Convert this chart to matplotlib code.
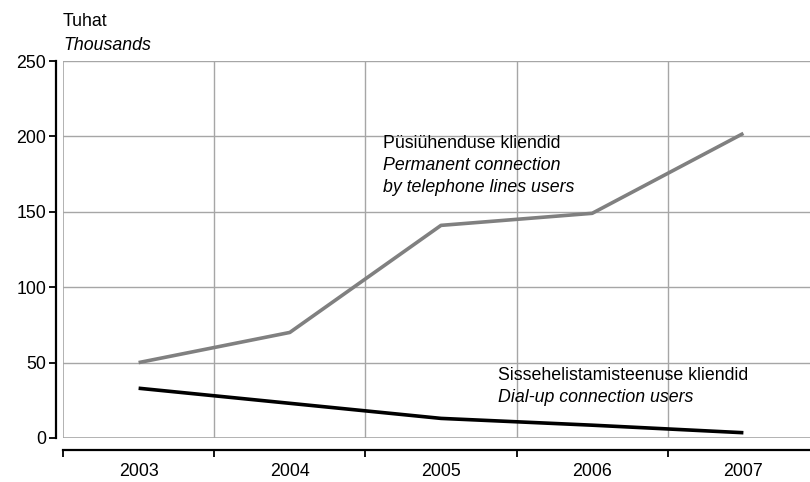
import matplotlib
matplotlib.use("Agg")
import matplotlib.pyplot as plt

# ----------------------------------------------------
# Data
# ----------------------------------------------------

years = ["2003", "2004", "2005", "2006", "2007"]
permanent = [50, 70, 141, 149, 202]
dialup = [33, 23, 13, 8.5, 3.5]

plt.rcParams["font.family"] = ["Liberation Sans", "DejaVu Sans"]
FS = 12.8

W, H = 810, 482
fig = plt.figure(figsize=(W / 100, H / 100), dpi=100)

# plot area runs past the right edge of the picture, as in the reference
left, right, top, bottom = 63, 819, 61, 438
ax = fig.add_axes([left / W, (H - bottom) / H, (right - left) / W, (bottom - top) / H])

x = list(range(len(years)))

ax.plot(x, permanent, color="#808080", lw=2.6, solid_capstyle="butt")
ax.plot(x, dialup, color="black", lw=2.6, solid_capstyle="butt")

ax.set_xlim(-0.5, len(years) - 0.5)
ax.set_ylim(0, 250)

# grid
grid_c = "#a6a6a6"
for yv in range(50, 251, 50):
    ax.axhline(yv, color=grid_c, lw=1, zorder=0)
for b in range(1, len(years)):
    ax.axvline(b - 0.5, color=grid_c, lw=1, zorder=0)

# frame: gray plot area, black offset axes
ax.spines["top"].set_visible(False)
ax.spines["right"].set_visible(False)
ax.axhline(0, color=grid_c, lw=1.2, zorder=0)
ax.axvline(-0.5, color=grid_c, lw=1.2, zorder=0)

ax.spines["left"].set_position(("outward", 5))
ax.spines["bottom"].set_position(("outward", 8.5))
ax.spines["left"].set_linewidth(1.6)
ax.spines["bottom"].set_linewidth(1.6)

ax.set_yticks(range(0, 251, 50))
ax.tick_params(axis="y", length=5, width=1.3, labelsize=FS, pad=2)

ax.set_xticks([b - 0.5 for b in range(len(years) + 1)])
ax.set_xticklabels([])
ax.tick_params(axis="x", length=5, width=1.3, direction="out")
for i, yr in enumerate(years):
    ax.text(i, -33 / (bottom - top), yr, transform=ax.get_xaxis_transform(),
            ha="center", va="center", fontsize=FS)

# labels
fig.text(left / W, 1 - 22 / H, "Tuhat", fontsize=FS, va="center")
fig.text(left / W, 1 - 45 / H, "Thousands", fontsize=FS, va="center", style="italic")

fig.text(383 / W, 1 - 143 / H, "Püsiühenduse kliendid", fontsize=FS, va="center")
fig.text(383 / W, 1 - 166 / H, "Permanent connection", fontsize=FS, va="center", style="italic")
fig.text(383 / W, 1 - 188 / H, "by telephone lines users", fontsize=FS, va="center", style="italic")

fig.text(498 / W, 1 - 375 / H, "Sissehelistamisteenuse kliendid", fontsize=FS, va="center")
fig.text(498 / W, 1 - 397 / H, "Dial-up connection users", fontsize=FS, va="center", style="italic")

fig.savefig("out.png", dpi=100)
plt.close()
